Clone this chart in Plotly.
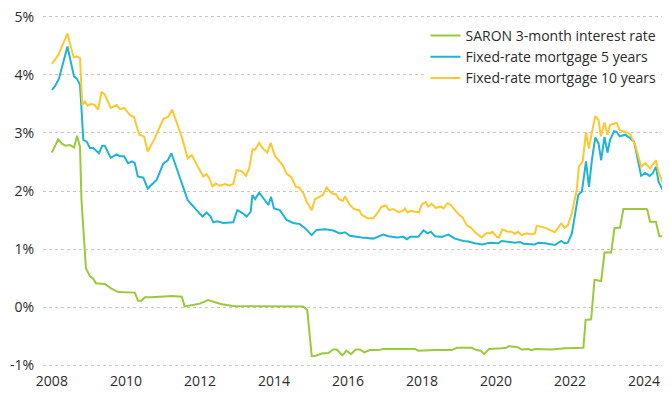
import plotly.graph_objects as go

# ---- data ----
saron_x = [2008.0, 2008.17, 2008.28, 2008.37, 2008.49, 2008.60, 2008.68, 2008.76, 2008.80, 2008.85,
           2008.92, 2009.03, 2009.12, 2009.19, 2009.43, 2009.61, 2009.79, 2010.24, 2010.33, 2010.42,
           2010.51, 2010.69, 2011.10, 2011.24, 2011.51, 2011.59, 2011.73, 2012.00, 2012.22, 2012.36,
           2012.59, 2012.90, 2013.35, 2013.80, 2014.25, 2014.52, 2014.79, 2014.90, 2015.02, 2015.11,
           2015.29, 2015.47, 2015.60, 2015.70, 2015.85, 2015.96, 2016.08, 2016.21, 2016.32, 2016.44,
           2016.59, 2016.82, 2016.95, 2017.81, 2017.90, 2018.35, 2018.80, 2018.94, 2019.34, 2019.47,
           2019.59, 2019.68, 2019.81, 2020.15, 2020.28, 2020.35, 2020.42, 2020.59, 2020.69, 2020.87,
           2020.96, 2021.05, 2021.50, 2021.86, 2022.31, 2022.36, 2022.42, 2022.57, 2022.66, 2022.84,
           2022.93, 2023.11, 2023.20, 2023.35, 2023.44, 2024.07, 2024.09, 2024.16, 2024.32, 2024.41,
           2024.52, 2024.68]
saron_y = [2.66, 2.89, 2.81, 2.78, 2.79, 2.75, 2.95, 2.76, 1.84, 1.27,
           0.67, 0.53, 0.49, 0.41, 0.40, 0.32, 0.26, 0.25, 0.11, 0.11,
           0.17, 0.17, 0.18, 0.19, 0.18, 0.01, 0.03, 0.06, 0.12, 0.09,
           0.05, 0.02, 0.02, 0.02, 0.02, 0.01, 0.01, -0.05, -0.84, -0.84,
           -0.80, -0.79, -0.73, -0.73, -0.83, -0.75, -0.81, -0.73, -0.73, -0.78,
           -0.74, -0.74, -0.72, -0.72, -0.75, -0.74, -0.74, -0.70, -0.70, -0.74,
           -0.75, -0.81, -0.72, -0.71, -0.70, -0.67, -0.68, -0.69, -0.73, -0.72,
           -0.74, -0.72, -0.73, -0.71, -0.71, -0.70, -0.22, -0.21, 0.47, 0.45,
           0.94, 0.94, 1.36, 1.37, 1.69, 1.69, 1.67, 1.47, 1.47, 1.22,
           1.22, 1.01]

m5_x = [2008.0, 2008.08, 2008.19, 2008.42, 2008.60, 2008.67, 2008.76, 2008.85, 2008.94, 2009.03,
        2009.12, 2009.27, 2009.36, 2009.43, 2009.59, 2009.75, 2009.84, 2009.95, 2010.06, 2010.17,
        2010.24, 2010.32, 2010.47, 2010.59, 2010.68, 2010.83, 2011.01, 2011.13, 2011.23, 2011.32,
        2011.52, 2011.67, 2011.91, 2012.07, 2012.18, 2012.29, 2012.36, 2012.47, 2012.63, 2012.90,
        2013.01, 2013.15, 2013.26, 2013.37, 2013.42, 2013.49, 2013.60, 2013.73, 2013.85, 2013.92,
        2014.00, 2014.16, 2014.34, 2014.52, 2014.70, 2014.84, 2015.02, 2015.15, 2015.38, 2015.60,
        2015.78, 2015.92, 2016.05, 2016.37, 2016.68, 2016.95, 2017.09, 2017.32, 2017.50, 2017.59,
        2017.68, 2017.90, 2018.04, 2018.15, 2018.24, 2018.35, 2018.53, 2018.71, 2018.89, 2019.12,
        2019.25, 2019.43, 2019.61, 2019.84, 2020.06, 2020.15, 2020.38, 2020.51, 2020.65, 2020.74,
        2021.05, 2021.14, 2021.32, 2021.59, 2021.76, 2021.85, 2021.94, 2022.05, 2022.14, 2022.22,
        2022.32, 2022.43, 2022.51, 2022.59, 2022.68, 2022.77, 2022.84, 2022.93, 2023.01, 2023.08,
        2023.19, 2023.26, 2023.34, 2023.49, 2023.62, 2023.73, 2023.85, 2023.92, 2024.03, 2024.15,
        2024.24, 2024.32, 2024.39, 2024.50]
m5_y = [3.74, 3.80, 3.93, 4.49, 3.97, 3.94, 3.83, 2.88, 2.85, 2.74,
        2.74, 2.65, 2.78, 2.78, 2.57, 2.63, 2.60, 2.60, 2.48, 2.51,
        2.48, 2.25, 2.23, 2.04, 2.10, 2.19, 2.47, 2.53, 2.65, 2.48,
        2.13, 1.84, 1.67, 1.56, 1.63, 1.56, 1.46, 1.48, 1.45, 1.46,
        1.67, 1.62, 1.56, 1.64, 1.93, 1.86, 1.97, 1.87, 1.76, 1.90,
        1.70, 1.67, 1.50, 1.45, 1.43, 1.36, 1.24, 1.33, 1.34, 1.32,
        1.27, 1.29, 1.23, 1.20, 1.18, 1.25, 1.22, 1.20, 1.21, 1.17,
        1.21, 1.21, 1.32, 1.27, 1.30, 1.22, 1.21, 1.25, 1.18, 1.14,
        1.13, 1.10, 1.08, 1.11, 1.10, 1.14, 1.12, 1.11, 1.12, 1.09,
        1.08, 1.11, 1.10, 1.07, 1.14, 1.10, 1.11, 1.27, 1.62, 1.93,
        1.99, 2.51, 2.07, 2.53, 2.92, 2.82, 2.53, 2.93, 2.66, 2.88,
        3.03, 3.02, 2.94, 2.97, 2.91, 2.85, 2.48, 2.26, 2.31, 2.26,
        2.31, 2.42, 2.16, 2.02]

m10_x = [2008.0, 2008.17, 2008.42, 2008.59, 2008.67, 2008.76, 2008.82, 2008.89, 2008.96, 2009.07,
         2009.16, 2009.25, 2009.34, 2009.43, 2009.59, 2009.75, 2009.84, 2009.95, 2010.11, 2010.22,
         2010.36, 2010.49, 2010.59, 2010.78, 2011.01, 2011.14, 2011.25, 2011.40, 2011.52, 2011.67,
         2011.78, 2011.94, 2012.09, 2012.18, 2012.25, 2012.34, 2012.43, 2012.54, 2012.68, 2012.79,
         2012.90, 2012.99, 2013.13, 2013.24, 2013.33, 2013.42, 2013.49, 2013.60, 2013.69, 2013.82,
         2013.91, 2014.03, 2014.14, 2014.23, 2014.34, 2014.48, 2014.59, 2014.68, 2014.79, 2014.88,
         2015.02, 2015.11, 2015.22, 2015.32, 2015.42, 2015.56, 2015.68, 2015.76, 2015.86, 2015.92,
         2016.05, 2016.16, 2016.30, 2016.37, 2016.53, 2016.68, 2016.77, 2016.91, 2017.02, 2017.11,
         2017.22, 2017.38, 2017.50, 2017.54, 2017.61, 2017.70, 2017.92, 2017.99, 2018.10, 2018.17,
         2018.26, 2018.37, 2018.51, 2018.58, 2018.69, 2018.78, 2018.89, 2019.00, 2019.09, 2019.21,
         2019.32, 2019.45, 2019.61, 2019.75, 2019.84, 2019.90, 2020.02, 2020.08, 2020.17, 2020.32,
         2020.42, 2020.51, 2020.59, 2020.69, 2020.83, 2020.96, 2021.05, 2021.10, 2021.32, 2021.50,
         2021.59, 2021.76, 2021.85, 2021.94, 2022.05, 2022.12, 2022.18, 2022.24, 2022.34, 2022.43,
         2022.51, 2022.59, 2022.68, 2022.77, 2022.83, 2022.93, 2023.01, 2023.08, 2023.26, 2023.34,
         2023.49, 2023.62, 2023.76, 2023.85, 2023.92, 2024.03, 2024.16, 2024.32, 2024.39, 2024.50]
m10_y = [4.19, 4.34, 4.71, 4.30, 4.32, 4.29, 3.48, 3.54, 3.47, 3.50,
         3.48, 3.40, 3.71, 3.66, 3.43, 3.48, 3.41, 3.43, 3.31, 3.27,
         2.97, 2.94, 2.68, 2.91, 3.24, 3.28, 3.40, 3.14, 2.91, 2.56,
         2.62, 2.42, 2.25, 2.29, 2.22, 2.08, 2.13, 2.09, 2.12, 2.09,
         2.12, 2.36, 2.34, 2.26, 2.39, 2.72, 2.71, 2.83, 2.74, 2.66,
         2.83, 2.60, 2.51, 2.45, 2.30, 2.23, 2.07, 2.06, 1.97, 1.82,
         1.67, 1.86, 1.90, 1.93, 2.06, 1.96, 1.94, 1.86, 1.83, 1.91,
         1.76, 1.69, 1.67, 1.59, 1.53, 1.53, 1.60, 1.73, 1.75, 1.67,
         1.69, 1.63, 1.67, 1.70, 1.63, 1.66, 1.63, 1.77, 1.81, 1.73,
         1.78, 1.71, 1.73, 1.70, 1.79, 1.76, 1.67, 1.59, 1.55, 1.41,
         1.37, 1.28, 1.20, 1.28, 1.27, 1.30, 1.21, 1.20, 1.34, 1.30,
         1.30, 1.26, 1.30, 1.24, 1.27, 1.25, 1.27, 1.40, 1.37, 1.31,
         1.29, 1.44, 1.37, 1.41, 1.62, 1.84, 2.02, 2.42, 2.51, 3.01,
         2.73, 3.01, 3.29, 3.22, 2.94, 3.18, 2.97, 3.14, 3.17, 3.05,
         3.01, 2.98, 2.79, 2.58, 2.42, 2.48, 2.39, 2.53, 2.33, 2.15]

series_names = ["SARON 3-month interest rate", "Fixed-rate mortgage 5 years", "Fixed-rate mortgage 10 years"]
series_colors = ["#9BC93B", "#1DB5D1", "#FFC82E"]

x_tick_vals = [2008, 2010, 2012, 2014, 2016, 2018, 2020, 2022, 2024]
x_tick_labels = ["2008", "2010", "2012", "2014", "2016", "2018", "2020", "2022", "2024"]
y_tick_vals = [-1, 0, 1, 2, 3, 4, 5]
y_tick_labels = ["-1%", "0%", "1%", "2%", "3%", "4%", "5%"]

assert len(saron_x) == len(saron_y)
assert len(m5_x) == len(m5_y)
assert len(m10_x) == len(m10_y)

FONT = "Open Sans"
TXT = "#2b2b2b"

fig = go.Figure()
for xs, ys, name, col in zip([saron_x, m5_x, m10_x], [saron_y, m5_y, m10_y], series_names, series_colors):
    fig.add_trace(go.Scatter(x=xs, y=ys, mode="lines", name=name,
                             line=dict(color=col, width=2)))

# white panel behind the legend so gridlines stop short of it
fig.add_shape(type="rect", xref="paper", yref="paper", x0=0.59, x1=1.0, y0=0.78, y1=1.0,
              fillcolor="white", line=dict(width=0), layer="below")

# the page body has an 8px default margin, so the figure is sized to fill the rest
fig.update_layout(
    width=662, height=393,
    margin=dict(l=35, r=0, t=3, b=30),
    paper_bgcolor="white", plot_bgcolor="white",
    font=dict(family=FONT, size=14, color=TXT),
    showlegend=True,
    legend=dict(x=0.61, y=0.975, xanchor="left", yanchor="top",
                bgcolor="white", borderwidth=0,
                font=dict(family=FONT, size=14, color=TXT)),
)
fig.update_xaxes(range=[2007.76, 2024.70], tickmode="array", tickvals=x_tick_vals,
                 ticktext=x_tick_labels, showgrid=False, zeroline=False, showline=False,
                 ticks="", tickfont=dict(size=14, color=TXT), ticklabeloverflow="allow")
fig.update_yaxes(range=[-1.1, 5.1], tickmode="array", tickvals=y_tick_vals,
                 ticktext=y_tick_labels, showgrid=True, gridcolor="#c8c8c8", griddash="dot",
                 gridwidth=1, zeroline=False, showline=False, ticks="",
                 ticklabelstandoff=8, tickfont=dict(size=14, color=TXT),
                 ticklabeloverflow="allow")

fig.write_html("out.html")
